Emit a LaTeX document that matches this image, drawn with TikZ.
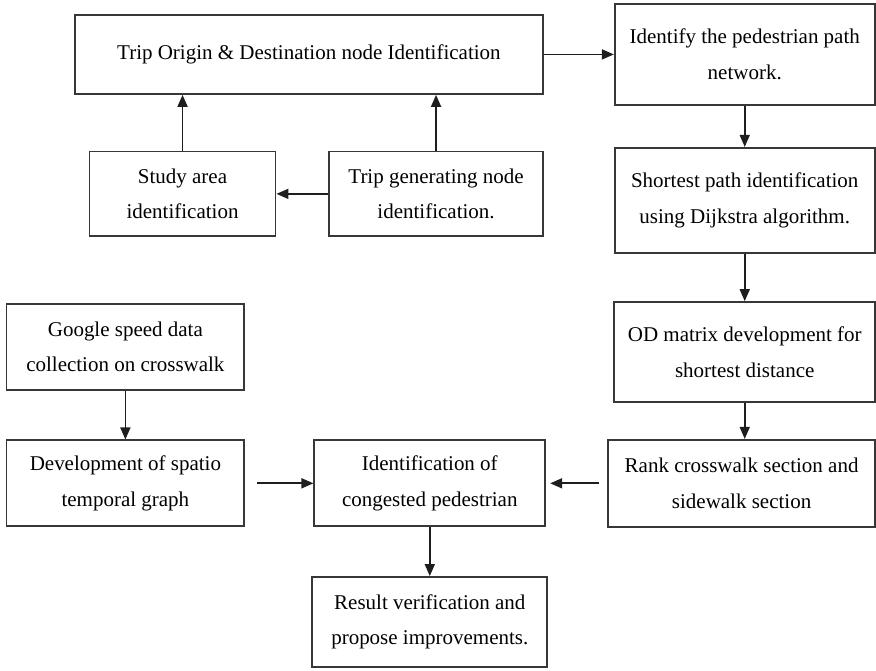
\documentclass[tikz,border=0pt]{standalone}
\usepackage{fontspec}
\setmainfont{Liberation Serif}
\usepackage{tikz}
\usetikzlibrary{arrows.meta, positioning}
\definecolor{boxline}{RGB}{55, 55, 55}
\definecolor{arrowline}{RGB}{30, 30, 30}
\tikzset{
  stepbox/.style 2 args={rectangle, draw=boxline, line width=0.9pt, fill=white,
              minimum width=#1, minimum height=#2, align=center, inner sep=2pt},
  arrow/.style={-{Triangle[length=6pt, width=5pt]}, line width=0.85pt, color=arrowline},
}

\begin{document}
\begin{tikzpicture}[every node/.style={font=\fontsize{10.5}{17.75}\selectfont}]
  \useasboundingbox (0,0) rectangle (15.40,-11.78);
  \node[stepbox={8.23cm}{1.39cm}, anchor=north west] (odident) at (1.30,-0.246)
        {Trip Origin \& Destination node Identification};
  \node[stepbox={4.57cm}{1.78cm}, right=1.23cm of odident] (pathnet)
        {Identify the pedestrian path\\network.};
  \node[stepbox={4.57cm}{1.85cm}, below=0.72cm of pathnet] (shortpath)
        {Shortest path identification\\using Dijkstra algorithm.};
  \node[stepbox={4.59cm}{1.76cm}, below=0.83cm of shortpath] (odmatrix)
        {OD matrix development for\\shortest distance};
  \node[stepbox={4.70cm}{1.53cm}, below=0.63cm of odmatrix.south east, anchor=north east] (rank)
        {Rank crosswalk section and\\sidewalk section};
  \node[stepbox={4.06cm}{1.51cm}, left=1.07cm of rank] (congest)
        {Identification of\\congested pedestrian};
  \node[stepbox={4.13cm}{1.58cm}, below=0.86cm of congest] (result)
        {Result verification and\\propose improvements.};
  \node[stepbox={4.18cm}{1.51cm}, left=1.2cm of congest] (spatio)
        {Development of spatio\\temporal graph};
  \node[stepbox={4.18cm}{1.51cm}, above=0.86cm of spatio] (google)
        {Google speed data\\collection on crosswalk};
  \node[stepbox={3.76cm}{1.49cm}, below=0.98cm of odident.south east, anchor=north east] (tripgen)
        {Trip generating node\\identification.};
  \node[stepbox={3.27cm}{1.49cm}, left=0.91cm of tripgen] (studyarea)
        {Study area\\identification};

  \draw[arrow] (odident) -- (pathnet);
  \draw[arrow] (studyarea) -- (studyarea |- odident.south);
  \draw[arrow] (tripgen) -- (studyarea);
  \draw[arrow] (tripgen) -- (tripgen |- odident.south);
  \draw[arrow] (pathnet) -- (shortpath);
  \draw[arrow] (shortpath) -- (odmatrix);
  \draw[arrow] (odmatrix) -- (odmatrix |- rank.north);
  \draw[arrow, shorten <=4pt, shorten >=2pt] (rank) -- (congest);
  \draw[arrow] (google) -- (spatio);
  \draw[arrow, shorten <=6pt] (spatio) -- (congest);
  \draw[arrow] (congest) -- (result);
\end{tikzpicture}
\end{document}
